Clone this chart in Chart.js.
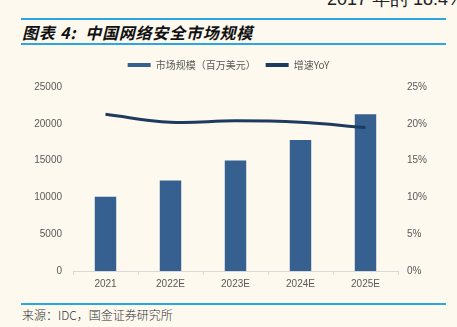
<!DOCTYPE html>
<html>
<head>
<meta charset="utf-8">
<script src="https://cdn.jsdelivr.net/npm/chart.js@4/dist/chart.umd.min.js"></script>
<style>
  body { margin: 0; width: 457px; height: 327px; background: #fdf9ef; position: relative; overflow: hidden;
         font-family: "Liberation Sans", Arial, sans-serif; }
  .rule { position: absolute; left: 21px; width: 425px; height: 2px; background: #2aa6e3; }
  #toptext { position: absolute; left: 327px; top: -13px; font-size: 18px; color: #222; white-space: nowrap; }
  #title { position: absolute; left: 22px; top: 20px; font-size: 16px; font-weight: bold; font-style: italic;
           letter-spacing: 0.8px; font-family: "Noto Sans CJK SC", sans-serif; color: #111; white-space: nowrap; }
  #source { position: absolute; left: 22px; top: 306px; font-size: 12px; color: #333; font-weight: 300;
            font-family: "Noto Sans CJK SC", sans-serif; white-space: nowrap; }
  #wrap { position: absolute; left: 0; top: 50px; width: 457px; height: 250px; }
</style>
</head>
<body>
<div id="toptext">2017 年的 18.4%</div>
<div class="rule" style="top:18px"></div>
<div id="title">图表 4:&nbsp;&nbsp;中国网络安全市场规模</div>
<div class="rule" style="top:43px"></div>
<div id="wrap"><canvas id="marketChart" width="457" height="250"></canvas></div>
<div class="rule" style="top:303px"></div>
<div id="source">来源：IDC，国金证券研究所</div>

<script>
        // data
        const years = ['2021', '2022E', '2023E', '2024E', '2025E'];
        const marketSize = [10100, 12300, 15000, 17800, 21300];   // 百万美元
        const growthYoY = [21.3, 20.2, 20.4, 20.2, 19.5];         // %
        const leftTicks = [0, 5000, 10000, 15000, 20000, 25000];
        const rightTicks = [0, 5, 10, 15, 20, 25];

        const tickFont = { family: '"Liberation Sans", Arial, sans-serif', size: 10 };
        const tickColor = '#595959';

        // keep the legend a fixed height so the plot area lands where the reference has it
        const fixedLegend = {
            id: 'fixedLegend',
            beforeInit(chart) {
                const fit = chart.legend.fit;
                chart.legend.fit = function () {
                    fit.call(this);
                    this.height = 37;
                };
            }
        };

        const ctx = document.getElementById('marketChart').getContext('2d');

        new Chart(ctx, {
            type: 'bar',
            data: {
                labels: years,
                datasets: [{
                    type: 'bar',
                    label: '市场规模（百万美元）',
                    data: marketSize,
                    backgroundColor: '#36608f',
                    yAxisID: 'y',
                    order: 1,
                    categoryPercentage: 1,
                    barPercentage: 0.33
                }, {
                    type: 'line',
                    label: '增速YoY',
                    data: growthYoY,
                    borderColor: '#1f3a5f',
                    backgroundColor: '#1f3a5f',
                    borderWidth: 3,
                    pointRadius: 0,
                    tension: 0.4,
                    yAxisID: 'y1',
                    order: 0
                }]
            },
            options: {
                responsive: false,
                animation: false,
                devicePixelRatio: 1,
                layout: { padding: 0 },
                plugins: {
                    tooltip: { enabled: false },
                    legend: {
                        position: 'top',
                        labels: {
                            boxWidth: 23,
                            boxHeight: 4,
                            padding: 10,
                            color: tickColor,
                            font: { family: '"Noto Sans CJK SC", sans-serif', size: 10 },
                            sort: (a, b) => a.datasetIndex - b.datasetIndex,
                            generateLabels(chart) {
                                const items = Chart.defaults.plugins.legend.labels.generateLabels(chart);
                                items.forEach(it => { it.lineWidth = 0; });
                                return items;
                            }
                        }
                    }
                },
                scales: {
                    x: {
                        offset: true,
                        grid: {
                            display: true,
                            drawOnChartArea: false,
                            drawTicks: true,
                            tickLength: 4,
                            offset: true,
                            color: '#d9d9d9'
                        },
                        border: { display: true, color: '#d9d9d9' },
                        ticks: { color: tickColor, font: tickFont, padding: 3 },
                        afterFit(scale) { scale.height = 29; }
                    },
                    y: {
                        position: 'left',
                        min: 0,
                        max: 25000,
                        afterBuildTicks(scale) { scale.ticks = leftTicks.map(v => ({ value: v })); },
                        grid: { display: false, drawTicks: false },
                        border: { display: false },
                        ticks: { color: tickColor, font: tickFont, padding: 11, callback: v => String(v) },
                        afterFit(scale) { scale.width = 73; }
                    },
                    y1: {
                        position: 'right',
                        min: 0,
                        max: 25,
                        afterBuildTicks(scale) { scale.ticks = rightTicks.map(v => ({ value: v })); },
                        grid: { display: false, drawTicks: false },
                        border: { display: false },
                        ticks: {
                            color: tickColor,
                            font: tickFont,
                            padding: 9,
                            callback: v => v + '%'
                        },
                        afterFit(scale) { scale.width = 59; }
                    }
                }
            },
            plugins: [fixedLegend]
        });
</script>
</body>
</html>
